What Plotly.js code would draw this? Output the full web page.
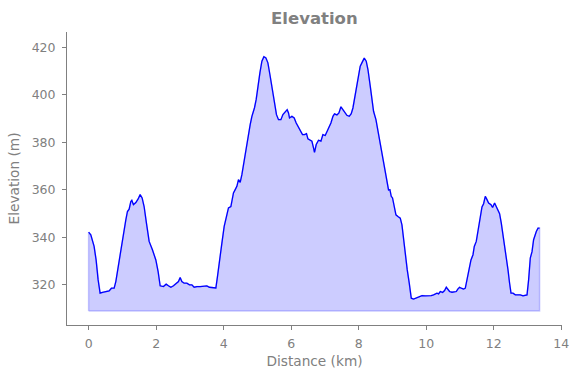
<!DOCTYPE html>
<html>
<head>
<meta charset="utf-8">
<script src="https://cdn.plot.ly/plotly-3.0.1.min.js"></script>
<style>html,body{margin:0;padding:0;background:#fff;}#chart{width:580px;height:378px;}</style>
</head>
<body>
<div id="chart"></div>
<script>
const distanceKm = [0.00,0.065,0.163,0.222,0.281,0.341,0.409,0.510,0.607,0.676,0.756,0.806,0.874,0.954,1.031,1.102,1.150,1.200,1.250,1.280,1.327,1.399,1.467,1.526,1.585,1.644,1.713,1.793,1.890,1.991,2.059,2.119,
2.216,2.296,2.364,2.436,2.513,2.593,2.661,2.711,2.761,2.830,2.910,2.987,3.058,3.126,3.206,3.304,3.401,3.502,3.579,3.680,3.769,3.816,3.876,3.947,4.015,4.095,4.142,4.213,4.243,4.290,4.341,4.391,4.439,4.489,4.539,4.587,4.637,4.717,4.785,4.836,4.913,4.963,5.013,5.073,5.132,5.191,5.250,5.310,5.369,5.428,5.496,5.564,5.624,5.695,5.754,5.822,5.881,5.920,5.950,6.021,6.089,6.148,6.216,6.276,6.335,6.394,6.453,6.495,6.563,6.613,6.661,6.690,6.741,6.809,6.880,6.939,7.007,7.058,7.105,7.176,7.236,7.283,7.354,7.413,7.473,7.520,7.579,7.650,7.719,7.778,7.828,7.876,7.926,7.994,8.044,8.104,8.163,8.222,8.273,8.341,8.391,8.439,8.510,8.569,8.637,8.705,8.776,8.836,8.883,8.924,8.963,9.001,9.043,9.102,9.161,9.230,9.280,9.327,9.378,9.437,9.496,9.556,9.624,9.695,9.772,9.873,9.970,10.068,10.148,10.216,10.267,10.317,10.364,10.415,10.483,10.542,10.593,10.643,10.690,10.761,10.830,10.889,10.939,10.987,11.037,11.105,11.156,11.206,11.253,11.324,11.384,11.422,11.481,11.550,11.621,11.650,11.698,11.748,11.799,11.846,11.917,11.964,12.024,12.074,12.124,12.172,12.222,12.290,12.361,12.421,12.468,12.510,12.569,12.637,12.705,12.785,12.865,12.933,12.984,13.031,13.081,13.132,13.179,13.259,13.310,13.357];
const elevationM = [342.2,341.1,336.2,330.5,322.1,316.5,316.8,317.2,317.5,318.6,318.6,321.4,327.7,334.8,341.8,347.4,350.9,351.9,355.1,355.6,353.8,354.7,356.2,358.0,356.6,353.0,346.0,338.3,334.8,330.5,325.6,319.6,
319.3,320.3,319.6,319.0,319.6,320.4,321.4,323.1,321.4,320.7,320.7,320.0,320.0,319.0,319.3,319.3,319.3,319.6,319.0,318.7,318.7,323.5,329.2,337.6,344.6,350.3,352.4,353.0,355.1,358.7,360.1,361.5,364.3,363.2,366.4,370.6,375.6,382.6,387.5,391.0,394.6,398.1,403.7,409.3,414.2,416.1,415.6,413.5,408.6,403.0,397.3,391.7,389.6,389.6,391.7,393.1,393.8,392.4,390.3,391.0,390.3,388.2,386.4,384.7,383.3,383.3,383.7,381.5,380.9,380.5,377.7,375.8,379.1,380.9,380.5,383.3,382.9,384.3,386.1,388.2,391.0,392.0,391.6,392.4,395.0,394.1,393.1,391.4,391.0,392.1,394.5,398.1,402.3,407.2,412.1,413.8,415.5,414.2,410.7,403.7,398.1,393.1,389.6,384.7,379.1,373.5,368.5,363.6,360.0,360.1,357.3,356.6,353.8,349.5,348.8,348.1,345.3,339.0,331.9,326.3,320.7,314.4,314.0,314.4,314.8,315.5,315.4,315.4,315.5,315.8,316.1,316.5,316.2,317.2,316.8,317.6,319.0,317.9,317.2,316.9,316.9,317.2,318.3,319.0,318.6,318.2,318.6,322.1,326.3,330.5,332.7,336.2,338.3,344.6,350.3,352.8,354.2,357.3,355.9,354.5,353.8,352.6,354.5,353.0,350.9,350.0,346.0,339.7,333.4,326.3,320.7,316.5,316.5,315.8,315.8,315.8,315.4,315.8,315.8,322.1,331.3,334.0,339.0,342.5,343.9,343.9];
const fillBase = 309;
const xTicks = [0,2,4,6,8,10,12,14];
const yTicks = [320,340,360,380,400,420];

const n = distanceKm.length;
const polyX = [distanceKm[0]].concat(distanceKm, [distanceKm[n-1], distanceKm[0]]);
const polyY = [fillBase].concat(elevationM, [fillBase, fillBase]);

const gray = '#808080';
const traces = [
  {x: polyX, y: polyY, mode: 'lines', fill: 'toself', fillcolor: 'rgba(0,0,255,0.2)',
   line: {color: 'rgba(0,0,255,0.2)', width: 1.5}, hoverinfo: 'skip', showlegend: false},
  {x: distanceKm, y: elevationM, mode: 'lines', line: {color: '#0000ff', width: 1.3}, showlegend: false}
];
const axisCommon = {
  showgrid: false, zeroline: false, showline: true, linecolor: gray, linewidth: 1,
  ticks: 'outside', ticklen: 4, tickwidth: 1, tickcolor: gray,
  tickfont: {family: 'DejaVu Sans', size: 12.5, color: gray}, mirror: false
};
const layout = {
  width: 580, height: 378,
  margin: {l: 67, r: 18, t: 32, b: 53},
  paper_bgcolor: '#fff', plot_bgcolor: '#fff',
  title: {text: '<b>Elevation</b>', x: 0.542, xanchor: 'center', y: 0.952, yanchor: 'middle',
          font: {family: 'DejaVu Sans', size: 16.5, color: gray}},
  xaxis: Object.assign({}, axisCommon, {range: [-0.64, 14.02], tickvals: xTicks, ticktext: xTicks.map(String),
          ticklabelstandoff: 3,
          title: {text: 'Distance (km)', font: {family: 'DejaVu Sans', size: 13.7, color: gray}, standoff: 6}}),
  yaxis: Object.assign({}, axisCommon, {range: [303.1, 426.5], tickvals: yTicks, ticktext: yTicks.map(String),
          ticklabelstandoff: 4,
          title: {text: 'Elevation (m)', font: {family: 'DejaVu Sans', size: 13.7, color: gray}, standoff: 8}})
};
Plotly.newPlot('chart', traces, layout, {displayModeBar: false, staticPlot: true});
</script>
</body>
</html>
